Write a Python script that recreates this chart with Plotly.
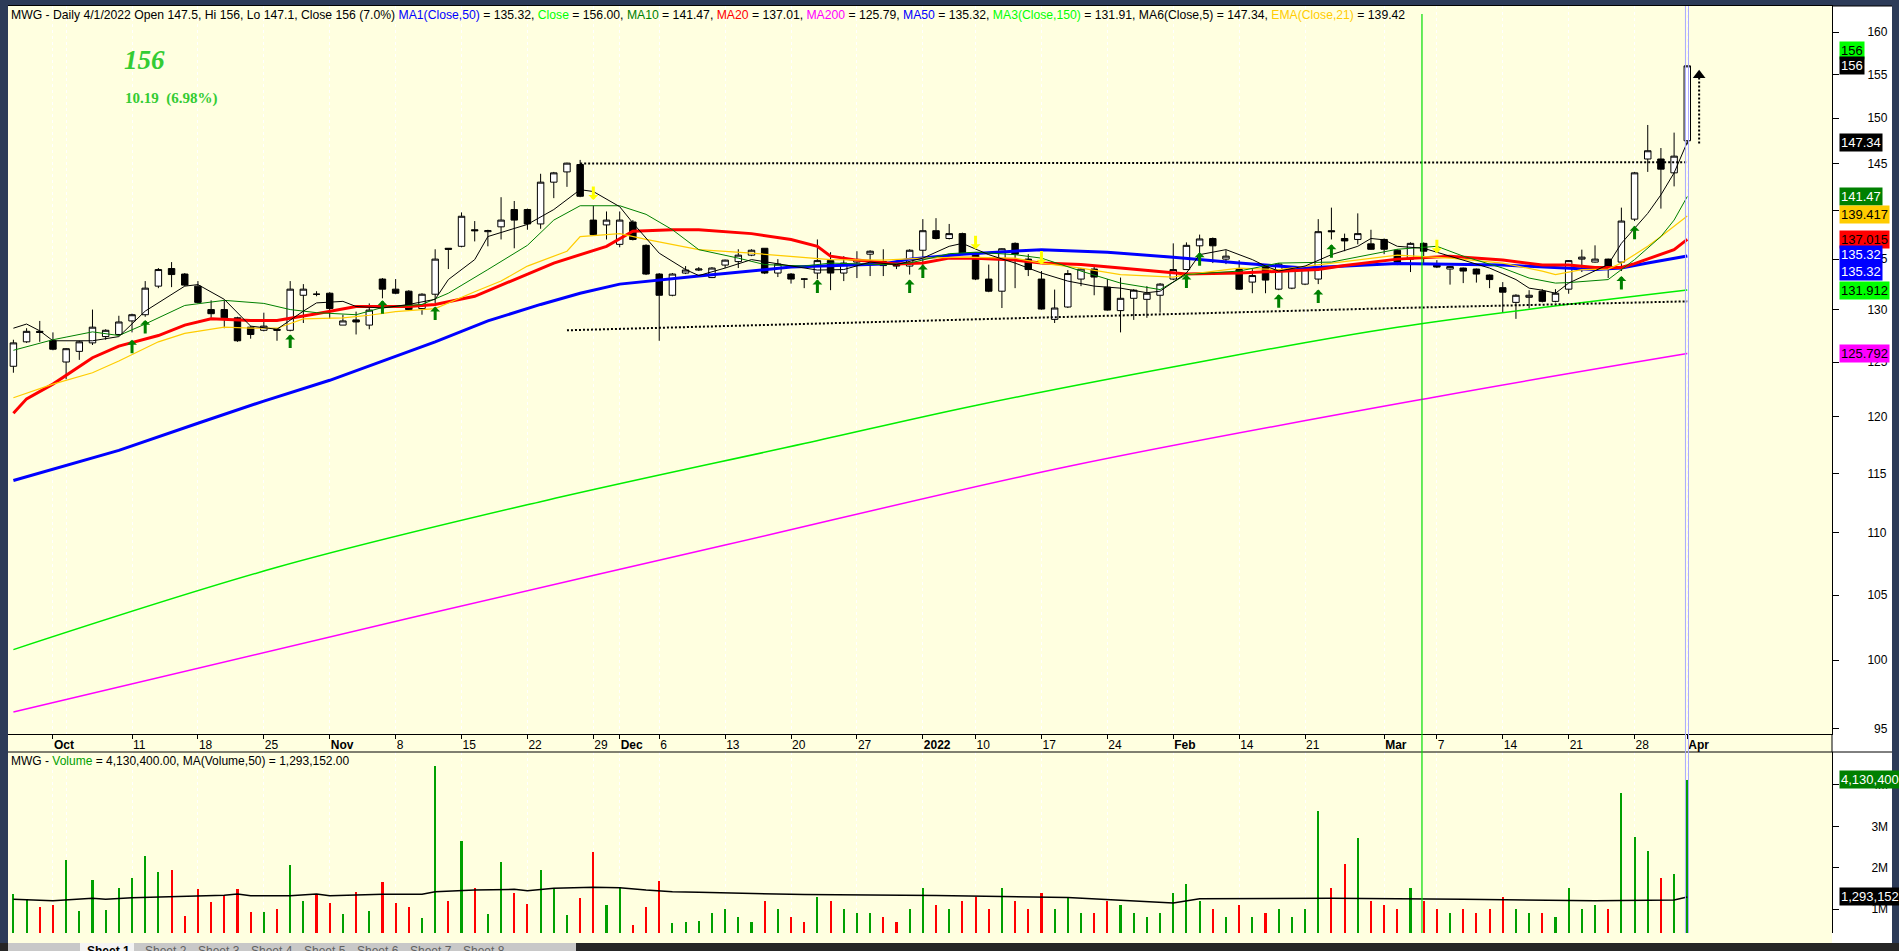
import math
import plotly.graph_objects as go

# ---------------- data ----------------
dates = [
    "2021-09-28", "2021-09-29", "2021-09-30",
    "2021-10-01", "2021-10-04", "2021-10-05", "2021-10-06", "2021-10-07", "2021-10-08",
    "2021-10-11", "2021-10-12", "2021-10-13", "2021-10-14", "2021-10-15",
    "2021-10-18", "2021-10-19", "2021-10-20", "2021-10-21", "2021-10-22",
    "2021-10-25", "2021-10-26", "2021-10-27", "2021-10-28", "2021-10-29",
    "2021-11-01", "2021-11-02", "2021-11-03", "2021-11-04", "2021-11-05",
    "2021-11-08", "2021-11-09", "2021-11-10", "2021-11-11", "2021-11-12",
    "2021-11-15", "2021-11-16", "2021-11-17", "2021-11-18", "2021-11-19",
    "2021-11-22", "2021-11-23", "2021-11-24", "2021-11-25", "2021-11-26",
    "2021-11-29", "2021-11-30", "2021-12-01", "2021-12-02", "2021-12-03",
    "2021-12-06", "2021-12-07", "2021-12-08", "2021-12-09", "2021-12-10",
    "2021-12-13", "2021-12-14", "2021-12-15", "2021-12-16", "2021-12-17",
    "2021-12-20", "2021-12-21", "2021-12-22", "2021-12-23", "2021-12-24",
    "2021-12-27", "2021-12-28", "2021-12-29", "2021-12-30", "2021-12-31",
    "2022-01-04", "2022-01-05", "2022-01-06", "2022-01-07",
    "2022-01-10", "2022-01-11", "2022-01-12", "2022-01-13", "2022-01-14",
    "2022-01-17", "2022-01-18", "2022-01-19", "2022-01-20", "2022-01-21",
    "2022-01-24", "2022-01-25", "2022-01-26", "2022-01-27", "2022-01-28",
    "2022-02-07", "2022-02-08", "2022-02-09", "2022-02-10", "2022-02-11",
    "2022-02-14", "2022-02-15", "2022-02-16", "2022-02-17", "2022-02-18",
    "2022-02-21", "2022-02-22", "2022-02-23", "2022-02-24", "2022-02-25",
    "2022-02-28", "2022-03-01", "2022-03-02", "2022-03-03", "2022-03-04",
    "2022-03-07", "2022-03-08", "2022-03-09", "2022-03-10", "2022-03-11",
    "2022-03-14", "2022-03-15", "2022-03-16", "2022-03-17", "2022-03-18",
    "2022-03-21", "2022-03-22", "2022-03-23", "2022-03-24", "2022-03-25",
    "2022-03-28", "2022-03-29", "2022-03-30", "2022-03-31", "2022-04-01",
]

opens = [124.6, 126.9, 127.9, 127.0, 125.0, 126.0, 126.8, 127.4, 127.6, 128.9,
         129.5, 132.3, 134.05, 133.5, 132.3, 130.0, 130.0, 129.2, 128.3, 128.0,
         128.1, 128.0, 131.4, 131.5, 131.6, 128.5, 129.0, 128.5, 133.0, 132.0,
         131.8, 130.1, 131.5, 136.1, 136.3, 138.0, 137.8, 138.3, 140.1, 140.1,
         138.6, 143.0, 144.1, 144.9, 139.0, 138.5, 136.5, 138.8, 136.4, 133.5,
         131.4, 133.6, 133.9, 133.15, 134.4, 134.75, 135.4, 136.1, 133.6, 133.5,
         133.0, 133.6, 134.85, 133.6, 134.7, 135.5, 134.75, 134.6, 134.3, 135.9,
         137.9, 137.1, 137.6, 135.5, 133.0, 131.8, 136.6, 135.0, 133.0, 129.05,
         130.25, 133.0, 134.0, 132.2, 129.9, 131.1, 131.0, 131.4, 133.0, 133.95,
         136.35, 137.1, 135.0, 133.95, 132.7, 134.3, 132.0, 132.1, 132.5, 133.0,
         137.9, 137.1, 137.0, 136.55, 137.0, 135.9, 135.0, 136.6, 134.55, 134.0,
         134.1, 134.0, 133.4, 132.15, 130.7, 131.2, 131.8, 130.8, 132.0, 135.0,
         134.7, 135.0, 134.7, 139.1, 145.5, 145.5, 144.0, 147.5]
highs = [127.1, 128.2, 128.9, 127.8, 126.3, 127.0, 130.0, 128.1, 129.4, 129.6,
         132.8, 134.1, 134.7, 133.6, 132.8, 130.9, 130.9, 129.3, 128.4, 129.7,
         128.2, 132.8, 132.5, 131.8, 131.7, 129.5, 129.8, 130.6, 133.1, 133.0,
         131.9, 131.6, 136.0, 136.1, 139.8, 138.9, 138.0, 141.4, 141.0, 140.2,
         143.9, 144.1, 145.1, 145.4, 140.5, 139.9, 139.9, 139.0, 136.5, 133.6,
         133.6, 134.3, 134.2, 134.2, 134.95, 136.0, 136.0, 136.1, 135.0, 133.6,
         133.1, 137.0, 135.7, 135.3, 135.8, 135.9, 136.0, 134.7, 136.0, 139.1,
         139.2, 138.6, 137.7, 135.6, 134.45, 136.1, 136.7, 135.5, 133.8, 131.96,
         133.9, 134.1, 134.3, 133.0, 133.15, 132.0, 132.3, 132.6, 136.6, 136.7,
         137.5, 137.2, 135.9, 134.9, 134.1, 134.4, 134.6, 134.1, 134.0, 139.1,
         140.3, 137.6, 139.7, 138.0, 137.1, 136.0, 136.7, 136.7, 134.9, 134.3,
         134.15, 134.05, 133.45, 132.7, 131.5, 131.9, 132.0, 132.0, 134.9, 135.96,
         136.4, 135.05, 140.3, 144.1, 149.25, 146.7, 148.4, 156.0]
lows = [124.0, 126.8, 126.9, 126.1, 123.4, 125.2, 126.6, 127.1, 127.5, 127.8,
        129.3, 132.1, 132.2, 132.3, 130.6, 129.2, 128.2, 126.9, 127.2, 127.9,
        127.0, 127.9, 128.7, 131.3, 129.1, 128.5, 127.6, 128.1, 131.1, 131.5,
        129.9, 129.5, 130.6, 134.0, 136.2, 136.8, 136.3, 137.0, 136.1, 138.0,
        138.1, 141.3, 142.5, 141.4, 137.4, 137.0, 136.2, 136.9, 133.4, 127.0,
        131.3, 133.5, 133.8, 133.1, 134.1, 134.1, 135.3, 133.5, 133.2, 132.55,
        132.1, 133.0, 131.9, 132.8, 133.1, 133.3, 133.3, 134.0, 133.45, 134.3,
        137.0, 137.0, 135.4, 132.9, 131.7, 130.15, 132.1, 133.3, 130.0, 128.7,
        130.15, 132.3, 131.4, 129.9, 127.8, 129.0, 129.2, 129.7, 132.9, 133.9,
        134.6, 134.6, 134.5, 131.95, 131.6, 131.6, 131.9, 132.0, 132.4, 132.5,
        137.0, 135.8, 136.5, 135.95, 135.5, 134.4, 133.7, 134.6, 134.1, 132.45,
        132.6, 132.65, 132.1, 129.7, 129.1, 130.1, 130.7, 130.7, 131.55, 133.7,
        134.65, 133.1, 133.8, 138.9, 144.1, 140.2, 142.55, 147.1]
closes = [126.8, 127.9, 127.8, 126.2, 126.25, 126.9, 128.3, 128.0, 128.8, 129.5,
          132.1, 133.95, 133.45, 132.4, 130.7, 129.6, 129.2, 127.0, 127.6, 128.4,
          128.0, 132.0, 132.0, 131.5, 130.1, 128.9, 128.8, 129.95, 132.0, 131.6,
          130.0, 131.5, 135.0, 136.0, 139.4, 137.9, 137.9, 139.0, 139.0, 138.6,
          143.0, 144.0, 145.05, 141.5, 137.5, 139.0, 139.0, 137.0, 133.5, 131.4,
          133.5, 133.9, 134.0, 134.1, 134.9, 135.4, 135.9, 133.6, 134.5, 133.0,
          133.0, 134.85, 133.6, 134.6, 134.95, 135.8, 134.35, 134.3, 135.9, 137.9,
          137.1, 137.6, 135.5, 133.0, 131.8, 136.05, 135.5, 133.95, 130.05, 130.15,
          133.55, 134.0, 133.2, 129.95, 131.1, 131.9, 131.6, 132.5, 133.95, 136.4,
          137.05, 136.35, 135.3, 132.0, 133.35, 132.9, 134.5, 134.0, 133.95, 137.8,
          137.8, 136.85, 137.6, 136.0, 136.0, 134.7, 136.6, 135.8, 134.2, 134.25,
          133.8, 133.5, 132.95, 131.7, 131.4, 131.4, 130.8, 131.6, 134.85, 135.2,
          135.0, 134.0, 138.9, 144.0, 146.4, 144.4, 145.81, 156.0]
volumes = [1365000, 1220000, 1060000, 1100000, 2190000, 955000, 1700000, 980000, 1520000, 1760000,
           2280000, 1900000, 1940000, 840000, 1485000, 1170000, 1325000, 1485000, 930000, 930000,
           1000000, 2065000, 1195000, 1365000, 1147000, 880000, 1410000, 955000, 1655000, 1147000,
           1050000, 785000, 4457000, 1195000, 2645000, 1510000, 880000, 2140000, 1390000, 1120000,
           1940000, 1485000, 860000, 1270000, 2380000, 1100000, 1535000, 616000, 1050000, 1680000,
           665000, 690000, 715000, 900000, 1000000, 800000, 700000, 1200000, 1000000, 800000,
           700000, 1300000, 1200000, 1000000, 900000, 900000, 800000, 700000, 1000000, 1500000,
           1100000, 1000000, 1200000, 1300000, 1000000, 1500000, 1200000, 1000000, 1400000, 1000000,
           1300000, 900000, 900000, 1200000, 1100000, 900000, 800000, 900000, 1400000, 1600000,
           1200000, 1000000, 800000, 1100000, 800000, 900000, 1000000, 800000, 1000000, 3360000,
           1500000, 2100000, 2720000, 1200000, 1100000, 1000000, 1500000, 1200000, 1000000, 900000,
           1000000, 900000, 1000000, 1300000, 1000000, 900000, 900000, 800000, 1500000, 1000000,
           1100000, 1000000, 3800000, 2750000, 2400000, 1750000, 1840000, 4130400]

# moving averages (bar index, value)
ma5_at = [0, 1, 2, 3, 6, 8, 10, 13, 14, 16, 18, 20, 22, 23, 25, 26, 28, 30, 32, 33, 35, 36, 39, 41,
          43, 44, 46, 47, 49, 51, 52, 54, 56, 59, 61, 63, 65, 67, 69, 71, 72, 74, 76, 78, 80, 82, 84,
          86, 87, 89, 90, 92, 94, 95, 96, 98, 100, 102, 103, 104, 105, 107, 109, 112, 114, 115, 116,
          117, 118, 120, 121, 122, 124, 125, 126, 127]
ma5 = [128.2, 128.6, 127.95, 127.0, 127.0, 127.4, 129.85, 132.3, 132.45, 131.0, 128.4, 128.1, 129.85,
       130.65, 130.8, 130.3, 130.15, 130.5, 131.0, 132.95, 134.95, 137.3, 138.55, 140.1, 142.2, 142.0,
       140.4, 138.7, 135.6, 133.95, 133.35, 134.1, 134.95, 134.35, 133.9, 133.95, 134.7, 134.45, 135.1,
       136.3, 136.6, 135.45, 134.6, 133.6, 132.8, 132.3, 132.1, 131.65, 131.8, 133.6, 135.45, 135.96,
       134.95, 134.3, 133.8, 134.3, 135.45, 136.3, 137.1, 136.96, 136.3, 136.1, 135.3, 134.1, 132.95,
       132.1, 131.9, 131.6, 132.6, 133.8, 134.45, 136.6, 139.7, 141.65, 144.0, 147.34]
ma10_at = [0, 3, 6, 8, 10, 13, 16, 19, 21, 23, 26, 28, 31, 33, 36, 39, 41, 43, 46, 48, 50, 52, 55, 57,
           60, 62, 66, 68, 71, 73, 76, 78, 81, 84, 87, 89, 93, 96, 100, 103, 105, 108, 110, 113, 115,
           117, 118, 121, 123, 125, 126, 127]
ma10 = [126.1, 127.1, 127.85, 127.5, 128.6, 130.4, 130.9, 130.6, 130.0, 129.7, 129.5, 130.2, 130.5,
        131.6, 133.95, 136.4, 139.0, 140.5, 140.5, 139.6, 138.0, 135.96, 135.1, 134.45, 134.3, 134.6,
        134.45, 134.6, 135.55, 135.7, 135.45, 135.1, 133.8, 132.6, 131.96, 133.45, 133.8, 134.6, 134.7,
        135.5, 136.0, 136.3, 135.3, 134.1, 133.1, 132.6, 132.65, 132.95, 134.95, 137.3, 139.0, 141.47]
ma20_at = [0, 1, 3, 6, 8, 11, 13, 15, 18, 20, 23, 26, 30, 32, 35, 38, 41, 45, 47, 50, 52, 56, 59, 61,
           62, 64, 66, 67, 69, 71, 73, 76, 78, 81, 84, 88, 89, 93, 96, 99, 101, 105, 109, 113, 116, 118,
           120, 122, 123, 124, 126, 127]
ma20 = [120.3, 121.6, 122.95, 125.4, 126.5, 127.5, 128.5, 129.1, 128.95, 128.95, 129.6, 130.3, 130.3,
        130.5, 131.3, 132.95, 134.6, 136.3, 137.85, 138.0, 138.0, 137.6, 137.0, 136.3, 135.3, 134.9,
        134.6, 134.5, 134.6, 135.1, 135.1, 134.9, 134.6, 134.45, 134.1, 133.6, 133.5, 133.6, 133.8,
        133.95, 134.35, 135.0, 135.3, 134.9, 134.4, 134.4, 134.15, 134.15, 134.55, 135.0, 135.96, 137.015]
ema21_at = [0, 3, 6, 8, 11, 13, 16, 18, 20, 22, 25, 27, 29, 32, 35, 37, 39, 42, 43, 46, 48, 50, 52, 56,
            59, 62, 66, 69, 72, 76, 78, 81, 84, 88, 89, 93, 96, 100, 105, 109, 113, 116, 117, 119, 121,
            122, 124, 125, 127]
ema21 = [121.7, 122.95, 124.0, 125.1, 126.9, 127.7, 128.3, 128.2, 128.2, 129.1, 129.2, 129.45, 129.8,
         130.1, 131.75, 132.8, 134.3, 135.8, 137.3, 137.6, 137.0, 136.5, 135.96, 135.6, 135.3, 134.95,
         134.9, 135.1, 135.2, 135.1, 134.6, 134.1, 133.45, 133.2, 133.45, 134.1, 133.95, 134.6, 135.4,
         135.1, 134.6, 133.8, 133.45, 133.95, 134.0, 134.6, 136.3, 137.3, 139.417]
ma50_at = [0, 8, 14, 19, 24, 28, 32, 36, 40, 43, 46, 52, 59, 66, 68, 72, 78, 83, 88, 93, 98, 105, 113,
           120, 122, 124, 127]
ma50 = [114.4, 117.0, 119.4, 121.4, 123.3, 125.1, 126.9, 128.9, 130.5, 131.6, 132.5, 133.3, 134.2, 134.5,
        135.0, 135.5, 135.96, 135.7, 135.2, 134.6, 134.1, 134.55, 134.4, 133.95, 134.1, 134.6, 135.32]
ma150_at = [0, 20, 40, 60, 73, 90, 105, 127]
ma150 = [100.8, 107.2, 112.6, 117.6, 121.0, 125.0, 128.3, 131.912]
ma200_at = [0, 30, 54, 80, 108, 127]
ma200 = [96.2, 103.2, 109.0, 115.6, 121.8, 125.792]
vol_ma_at = [0, 3, 6, 7, 9, 13, 16, 17, 18, 21, 23, 24, 28, 31, 32, 35, 38, 39, 41, 44, 46, 48, 50, 52,
             60, 70, 80, 88, 90, 100, 110, 120, 126, 127]
vol_ma = [1237000, 1203000, 1260000, 1237000, 1275000, 1316000, 1333000, 1365000, 1324000, 1324000,
          1365000, 1324000, 1357000, 1357000, 1420000, 1460000, 1478000, 1445000, 1502000, 1527000,
          1517000, 1460000, 1420000, 1406000, 1350000, 1330000, 1280000, 1150000, 1250000, 1260000,
          1240000, 1200000, 1220000, 1293152]

tick_dates = ["2021-10-01", "2021-10-11", "2021-10-18", "2021-10-25", "2021-11-01", "2021-11-08",
              "2021-11-15", "2021-11-22", "2021-11-29", "2021-12-01", "2021-12-06", "2021-12-13",
              "2021-12-20", "2021-12-27", "2022-01-04", "2022-01-10", "2022-01-17", "2022-01-24",
              "2022-02-07", "2022-02-14", "2022-02-21", "2022-03-01", "2022-03-07", "2022-03-14",
              "2022-03-21", "2022-03-28", "2022-04-01"]
tick_labels = ["<b>Oct</b>", "11", "18", "25", "<b>Nov</b>", "8", "15", "22", "29", "<b>Dec</b>", "6", "13",
               "20", "27", "<b>2022</b>", "10", "17", "24", "<b>Feb</b>", "14", "21", "<b>Mar</b>", "7",
               "14", "21", "28", "<b>Apr</b>"]
minor_grid_dates = ["2021-10-04"]

price_ticks = [95, 100, 105, 110, 115, 120, 125, 130, 135, 140, 145, 150, 155, 160]
vol_ticks = [1000000, 2000000, 3000000, 4000000]
vol_tick_labels = ["1M", "2M", "3M", "4M"]

resist_at = [43, 127]
resist = [145.0, 145.15]
support_at = [42, 105, 127]
support = [128.0, 130.15, 130.8]
target_at = [127.9, 127.9]
target = [147.2, 154.6]
target_tip = 154.9

buy_at = [9, 10, 21, 28, 32, 61, 68, 69, 89, 90, 96, 99, 100, 122, 123]
buy_y = [127.1, 129.0, 127.6, 130.9, 130.3, 132.95, 132.95, 134.45, 133.45, 135.7, 131.5, 131.96,
         136.5, 133.3, 138.4]
sell_at = [44, 73, 78, 108]
sell_y = [141.1, 136.0, 134.45, 135.6]

marker_date = 106.87   # green vertical marker line (bar position)

# right-axis value tags: value, text, background, font colour, vertical shift (px)
tag_values = [156.0, 156.0, 147.34, 141.47, 139.417, 137.015, 135.32, 131.912, 125.792]
tag_texts = ["156", "156", "147.34", "141.47", "139.417", "137.015", "135.32<br>135.32", "131.912", "125.792"]
tag_bg = ["#00ff00", "#000000", "#000000", "#008000", "#ffcc00", "#ff0000", "#0000ff", "#00ff00", "#ff00ff"]
tag_fg = ["black", "white", "white", "white", "black", "black", "white", "black", "black"]
tag_shift = [15, 0, 0, 0, 2, 0, -7, 0, 0]

sheet_names = ["Sheet 1", "Sheet 2", "Sheet 3", "Sheet 4", "Sheet 5", "Sheet 6", "Sheet 7", "Sheet 8"]

# ---------------- layout helpers ----------------
W, H = 1899, 951
ML, MR, MT, MB = 8, 67, 6, 18
PW = W - ML - MR
PH = H - MT - MB


def px(x):
    return (x - ML) / PW


def py(y):
    return (H - MB - y) / PH


xs = list(range(len(dates)))
idx = {d: i for i, d in enumerate(dates)}
tick_x = [idx[d] for d in tick_dates]

CREAM = "#ffffe0"
NAVY = "#2c3b58"

fig = go.Figure()

fig.add_trace(go.Candlestick(
    x=xs, open=opens, high=highs, low=lows, close=closes,
    increasing=dict(line=dict(color="black", width=1), fillcolor="white"),
    decreasing=dict(line=dict(color="black", width=1), fillcolor="black"),
    whiskerwidth=0, showlegend=False, hoverinfo="skip", xaxis="x", yaxis="y"))


def line(xv, yv, color, width, dash=None, xa="x", ya="y", shape="linear"):
    fig.add_trace(go.Scatter(x=xv, y=yv, mode="lines", xaxis=xa, yaxis=ya,
                             line=dict(color=color, width=width, dash=dash, shape=shape),
                             showlegend=False, hoverinfo="skip"))


line(ma200_at, ma200, "#ff00ff", 1.5, shape="spline")
line(ma150_at, ma150, "#00ee00", 1.5, shape="spline")
line(ma50_at, ma50, "#0000ff", 3)
line(ma20_at, ma20, "#ff0000", 3)
line(ema21_at, ema21, "#ffcc00", 1.2)
line(ma10_at, ma10, "#008000", 1)
line(ma5_at, ma5, "#000000", 1)
line(resist_at, resist, "#000000", 2, "2px,2px")
line(support_at, support, "#000000", 2, "2px,2px")
line(target_at, target, "#000000", 2, "2px,2px")
fig.add_trace(go.Scatter(x=[target_at[-1]], y=[target_tip], mode="markers", xaxis="x", yaxis="y",
                         marker=dict(symbol="triangle-up", size=11, color="black"),
                         showlegend=False, hoverinfo="skip"))

# volume
vol_colors = ["#00a000" if c > o else "#ff0000" for o, c in zip(opens, closes)]
fig.add_trace(go.Bar(x=xs, y=volumes, marker=dict(color=vol_colors, line=dict(width=0)),
                     width=0.16, xaxis="x2", yaxis="y2", showlegend=False, hoverinfo="skip"))
line(vol_ma_at, vol_ma, "#000000", 1.5, xa="x2", ya="y2")

# left-pointing arrow heads of two tags
fig.add_trace(go.Scatter(x=[138.3], y=[closes[-1]], mode="markers", xaxis="x", yaxis="y",
                         marker=dict(symbol="triangle-left", size=10, color="black"),
                         cliponaxis=False, showlegend=False, hoverinfo="skip"))
fig.add_trace(go.Scatter(x=[138.3], y=[volumes[-1]], mode="markers", xaxis="x2", yaxis="y2",
                         marker=dict(symbol="triangle-left", size=10, color="#008000"),
                         cliponaxis=False, showlegend=False, hoverinfo="skip"))

shapes = [
    dict(type="rect", xref="paper", yref="paper", x0=0, x1=px(1892), y0=py(943), y1=1,
         fillcolor="white", line=dict(width=0), layer="below"),
    dict(type="rect", xref="paper", yref="paper", x0=0, x1=1, y0=py(943), y1=1,
         fillcolor=CREAM, line=dict(width=0), layer="below"),
    dict(type="rect", xref="paper", yref="paper", x0=px(0), x1=px(W), y0=py(951), y1=py(943),
         fillcolor="#262626", line=dict(width=0), layer="above"),
    dict(type="rect", xref="paper", yref="paper", x0=px(8), x1=px(576), y0=py(951), y1=py(943),
         fillcolor="#c8c8c8", line=dict(width=0), layer="above"),
    dict(type="rect", xref="paper", yref="paper", x0=px(80), x1=px(134), y0=py(951), y1=py(943),
         fillcolor="#f4f4f4", line=dict(width=0), layer="above"),
    dict(type="line", xref="paper", yref="paper", x0=0, x1=px(1892), y0=py(752), y1=py(752),
         line=dict(color="black", width=1)),
    dict(type="line", xref="paper", yref="paper", x0=1, x1=1, y0=py(752), y1=py(734),
         line=dict(color="black", width=1)),
    dict(type="line", xref="paper", yref="paper", x0=1, x1=px(1892), y0=1, y1=1,
         line=dict(color="black", width=1)),
    dict(type="line", xref="x", yref="paper", x0=marker_date, x1=marker_date, y0=0, y1=py(14),
         line=dict(color="#00dd00", width=1.2)),
    dict(type="line", xref="x", yref="paper", x0=126.86, x1=126.86, y0=0, y1=1,
         line=dict(color="#a8a8ff", width=1)),
    dict(type="line", xref="x", yref="paper", x0=127.09, x1=127.09, y0=0, y1=1,
         line=dict(color="#a8a8ff", width=1)),
]

annotations = []
title_html = ("MWG - Daily 4/1/2022 Open 147.5, Hi 156, Lo 147.1, Close 156 (7.0%) "
              "<span style='color:#0000ff'>MA1(Close,50)</span> = 135.32, "
              "<span style='color:#00ff00'>Close</span> = 156.00, "
              "<span style='color:#008000'>MA10</span> = 141.47, "
              "<span style='color:#ff0000'>MA20</span> = 137.01, "
              "<span style='color:#ff00ff'>MA200</span> = 125.79, "
              "<span style='color:#0000ff'>MA50</span> = 135.32, "
              "<span style='color:#00ff00'>MA3(Close,150)</span> = 131.91, "
              "MA6(Close,5) = 147.34, "
              "<span style='color:#ffcc00'>EMA(Close,21)</span> = 139.42")
annotations.append(dict(text=title_html, xref="paper", yref="paper", x=px(9), y=py(15),
                        xanchor="left", yanchor="middle", showarrow=False,
                        font=dict(family="Arial, Liberation Sans", size=12.2, color="black")))
annotations.append(dict(text="<b><i>156</i></b>", xref="paper", yref="paper", x=px(122), y=py(60),
                        xanchor="left", yanchor="middle", showarrow=False,
                        font=dict(family="Times New Roman, Liberation Serif", size=27, color="#33cc33")))
annotations.append(dict(text="<b>10.19\u00a0\u00a0(6.98%)</b>", xref="paper", yref="paper", x=px(123),
                        y=py(98), xanchor="left", yanchor="middle", showarrow=False,
                        font=dict(family="Times New Roman, Liberation Serif", size=15, color="#33cc33")))
annotations.append(dict(text="MWG - <span style='color:#00a000'>Volume</span> = 4,130,400.00, "
                             "MA(Volume,50) = 1,293,152.00",
                        xref="paper", yref="paper", x=px(9), y=py(761), xanchor="left",
                        yanchor="middle", showarrow=False,
                        font=dict(family="Arial, Liberation Sans", size=12, color="black")))

for v, t, bg, fg, sh in zip(tag_values, tag_texts, tag_bg, tag_fg, tag_shift):
    annotations.append(dict(text=t, xref="paper", yref="y", x=px(1839), y=math.log10(v),
                            xanchor="left", yanchor="middle", yshift=sh, showarrow=False,
                            bgcolor=bg, borderpad=1, align="left",
                            font=dict(family="Arial, Liberation Sans", size=13, color=fg)))
annotations.append(dict(text="4,130,400", xref="paper", yref="y2", x=px(1839), y=volumes[-1],
                        xanchor="left", yanchor="middle", showarrow=False, bgcolor="#008000",
                        borderpad=1, font=dict(family="Arial, Liberation Sans", size=13, color="white")))
annotations.append(dict(text="1,293,152", xref="paper", yref="y2", x=px(1839), y=vol_ma[-1],
                        xanchor="left", yanchor="middle", showarrow=False, bgcolor="#000000",
                        borderpad=1, font=dict(family="Arial, Liberation Sans", size=13, color="white")))

for bx, by in zip(buy_at, buy_y):
    annotations.append(dict(x=bx, y=math.log10(by), xref="x", yref="y", text="", showarrow=True,
                            ax=0, ay=15, arrowhead=1, arrowsize=0.55, arrowwidth=3,
                            arrowcolor="#008000", standoff=0))
for sx, sy in zip(sell_at, sell_y):
    annotations.append(dict(x=sx, y=math.log10(sy), xref="x", yref="y", text="", showarrow=True,
                            ax=0, ay=-15, arrowhead=1, arrowsize=0.55, arrowwidth=3,
                            arrowcolor="#ffff00", standoff=0))

sheet_x = [85, 143, 196, 249, 302, 355, 408, 461]
for k, (nm, sxp) in enumerate(zip(sheet_names, sheet_x)):
    annotations.append(dict(text=("<b>%s</b>" % nm) if k == 0 else nm, xref="paper", yref="paper",
                            x=px(sxp), y=py(942), xanchor="left", yanchor="top", showarrow=False,
                            font=dict(family="Arial, Liberation Sans", size=12,
                                      color="black" if k == 0 else "#606060")))

axis_font = dict(family="Arial, Liberation Sans", size=12, color="black")
price_top = 1.0
price_bot = py(734)
vol_top = py(752)

fig.update_layout(
    width=W, height=H, margin=dict(l=ML, r=MR, t=MT, b=MB, pad=0),
    paper_bgcolor=NAVY, plot_bgcolor="rgba(0,0,0,0)",
    showlegend=False, shapes=shapes, annotations=annotations,
    xaxis=dict(domain=[0, 1], anchor="y", range=[-0.41, 137.98], tickvals=tick_x, ticktext=tick_labels,
               ticks="outside", ticklen=4, tickcolor="black", ticklabelposition="outside right",
               tickangle=0, showline=True, linecolor="black", linewidth=1, mirror=True,
               showgrid=True, gridcolor="white", griddash="dot", gridwidth=1, zeroline=False,
               tickfont=axis_font, rangeslider=dict(visible=False), fixedrange=True,
               minor=dict(tickvals=[idx[d] for d in minor_grid_dates], showgrid=True,
                          gridcolor="white", griddash="dot", ticks="")),
    yaxis=dict(domain=[price_bot, price_top], anchor="x", type="log", side="right",
               range=[1.97605, 2.21257], tickvals=price_ticks,
               ticktext=[("\u2007%d" % t) if t < 100 else str(t) for t in price_ticks],
               ticks="outside", ticklen=6, tickcolor="black", showline=True, linecolor="black",
               linewidth=1, showgrid=False, zeroline=False, tickfont=axis_font, ticklabelstandoff=26),
    xaxis2=dict(domain=[0, 1], anchor="y2", matches="x", range=[-0.41, 137.98], tickvals=tick_x,
                showticklabels=False, ticks="", showline=False, showgrid=True, gridcolor="white",
                griddash="dot", zeroline=False,
                minor=dict(tickvals=[idx[d] for d in minor_grid_dates], showgrid=True,
                           gridcolor="white", griddash="dot", ticks="")),
    yaxis2=dict(domain=[0, vol_top], anchor="x2", side="right", range=[423000, 4795000],
                tickvals=vol_ticks, ticktext=vol_tick_labels, ticks="outside", ticklen=6,
                tickcolor="black", showline=True, linecolor="black", linewidth=1, showgrid=False,
                zeroline=False, tickfont=axis_font, ticklabelstandoff=30),
    bargap=0,
)

fig.write_html("out.html", config={"displayModeBar": False},
               post_script="document.body.style.margin='0';document.body.style.overflow='hidden';")
